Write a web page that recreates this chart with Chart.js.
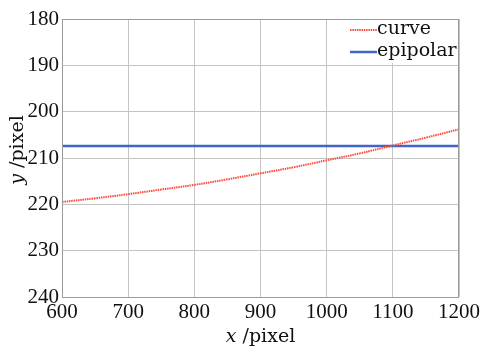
<!DOCTYPE html>
<html>
<head>
<meta charset="utf-8">
<script src="https://cdn.jsdelivr.net/npm/chart.js@4"></script>
<style>
  html, body { margin: 0; padding: 0; background: #fff; }
  #wrap { width: 480px; height: 347px; }
</style>
</head>
<body>
<div id="wrap"><canvas id="epiChart" width="480" height="347"></canvas></div>
<script>
// values
const curveX = [600, 650, 700, 750, 800, 850, 900, 950, 1000, 1050, 1100, 1150, 1200];
const curveY = [219.5, 218.7, 217.8, 216.8, 215.8, 214.6, 213.3, 212.0, 210.5, 209.0, 207.3, 205.6, 203.8];
const epipolarX = [600, 1200];
const epipolarY = [207.4, 207.4];
const xTicks = [600, 700, 800, 900, 1000, 1100, 1200];
const yTicks = [180, 190, 200, 210, 220, 230, 240];

const serif = "'Liberation Serif', 'DejaVu Serif', serif";
const wordFont = "'DejaVu Serif', serif";
const RED = '#ff4b3c';
const BLUE = '#4266c6';

// frame, legend box and the two half-italic axis titles
const decorations = {
    id: 'decorations',
    afterDatasetsDraw(chart) {
        const { ctx, chartArea: a } = chart;
        ctx.save();
        ctx.strokeStyle = '#9a9a9a';
        ctx.lineWidth = 1;
        ctx.strokeRect(a.left + 0.5, a.top + 0.5, a.right - a.left - 1, a.bottom - a.top);

        // legend
        const lx = a.right - 111, ly = a.top + 1;
        ctx.fillStyle = '#fff';
        ctx.fillRect(lx, ly, 110, 43);
        ctx.font = '19px ' + wordFont;
        ctx.textBaseline = 'middle';
        chart.data.datasets.forEach((ds, i) => {
            const y = ly + 10 + i * 22;
            ctx.strokeStyle = ds.borderColor;
            ctx.lineWidth = ds.borderWidth;
            ctx.setLineDash(ds.borderDash || []);
            ctx.beginPath();
            ctx.moveTo(lx + 2, y);
            ctx.lineTo(lx + 29, y);
            ctx.stroke();
            ctx.setLineDash([]);
            ctx.fillStyle = '#111';
            ctx.textAlign = 'left';
            ctx.fillText(ds.label, lx + 29, y - 1);
        });

        // x title
        ctx.fillStyle = '#111';
        ctx.textBaseline = 'alphabetic';
        const xc = (a.left + a.right) / 2;
        ctx.font = 'italic 19px ' + wordFont;
        const w1 = ctx.measureText('x').width;
        ctx.font = '19px ' + wordFont;
        const w2 = ctx.measureText(' /pixel').width;
        let x0 = xc - (w1 + w2) / 2;
        ctx.textAlign = 'left';
        ctx.font = 'italic 19px ' + wordFont;
        ctx.fillText('x', x0, 342);
        ctx.font = '19px ' + wordFont;
        ctx.fillText(' /pixel', x0 + w1, 342);

        // y title (rotated)
        ctx.translate(23, 150);
        ctx.rotate(-Math.PI / 2);
        ctx.font = 'italic 19px ' + wordFont;
        const h1 = ctx.measureText('y').width;
        ctx.font = '19px ' + wordFont;
        const h2 = ctx.measureText(' /pixel').width;
        x0 = -(h1 + h2) / 2;
        ctx.font = 'italic 19px ' + wordFont;
        ctx.fillText('y', x0, 0);
        ctx.font = '19px ' + wordFont;
        ctx.fillText(' /pixel', x0 + h1, 0);
        ctx.restore();
    }
};

new Chart(document.getElementById('epiChart').getContext('2d'), {
    type: 'line',
    data: {
        datasets: [{
            label: 'curve',
            data: curveX.map((x, i) => ({ x, y: curveY[i] })),
            borderColor: RED,
            borderWidth: 2,
            borderDash: [1.5, 0.8],
            pointRadius: 0,
            tension: 0.4
        }, {
            label: 'epipolar',
            data: epipolarX.map((x, i) => ({ x, y: epipolarY[i] })),
            borderColor: BLUE,
            borderWidth: 2.5,
            pointRadius: 0
        }]
    },
    options: {
        responsive: false,
        animation: false,
        layout: { padding: { top: 19, right: 21, left: 0, bottom: 0 } },
        plugins: {
            legend: { display: false },
            tooltip: { enabled: false }
        },
        scales: {
            x: {
                type: 'linear',
                min: 600,
                max: 1200,
                afterBuildTicks: s => { s.ticks = xTicks.map(v => ({ value: v })); },
                afterFit: s => { s.height = 50; s.paddingLeft = 0; s.paddingRight = 0; },
                grid: { color: '#c4c4c4', drawTicks: false },
                border: { display: false },
                ticks: {
                    color: '#111',
                    padding: 3,
                    maxRotation: 0,
                    callback: v => String(v),
                    font: { family: serif, size: 21 }
                }
            },
            y: {
                reverse: true,
                min: 180,
                max: 240,
                afterBuildTicks: s => { s.ticks = yTicks.map(v => ({ value: v })); },
                afterFit: s => { s.width = 62; s.paddingTop = 0; s.paddingBottom = 0; },
                grid: { color: '#c4c4c4', drawTicks: false },
                border: { display: false },
                ticks: {
                    color: '#111',
                    padding: 3,
                    callback: v => String(v),
                    font: { family: serif, size: 21 }
                }
            }
        }
    },
    plugins: [decorations]
});
</script>
</body>
</html>
